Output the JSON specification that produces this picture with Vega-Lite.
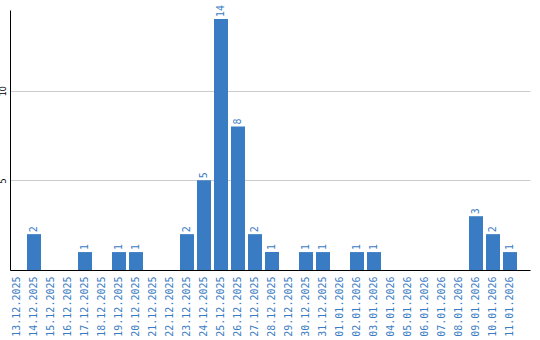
{
  "$schema": "https://vega.github.io/schema/vega-lite/v6.json",
  "width": 520,
  "height": 260,
  "autosize": {"type": "none"},
  "padding": {"left": 10, "top": 10, "right": 10, "bottom": 70},
  "background": "white",
  "config": {"view": {"stroke": null}},
  "data": {"values": [
    {"date": "13.12.2025", "count": 0},
    {"date": "14.12.2025", "count": 2},
    {"date": "15.12.2025", "count": 0},
    {"date": "16.12.2025", "count": 0},
    {"date": "17.12.2025", "count": 1},
    {"date": "18.12.2025", "count": 0},
    {"date": "19.12.2025", "count": 1},
    {"date": "20.12.2025", "count": 1},
    {"date": "21.12.2025", "count": 0},
    {"date": "22.12.2025", "count": 0},
    {"date": "23.12.2025", "count": 2},
    {"date": "24.12.2025", "count": 5},
    {"date": "25.12.2025", "count": 14},
    {"date": "26.12.2025", "count": 8},
    {"date": "27.12.2025", "count": 2},
    {"date": "28.12.2025", "count": 1},
    {"date": "29.12.2025", "count": 0},
    {"date": "30.12.2025", "count": 1},
    {"date": "31.12.2025", "count": 1},
    {"date": "01.01.2026", "count": 0},
    {"date": "02.01.2026", "count": 1},
    {"date": "03.01.2026", "count": 1},
    {"date": "04.01.2026", "count": 0},
    {"date": "05.01.2026", "count": 0},
    {"date": "06.01.2026", "count": 0},
    {"date": "07.01.2026", "count": 0},
    {"date": "08.01.2026", "count": 0},
    {"date": "09.01.2026", "count": 3},
    {"date": "10.01.2026", "count": 2},
    {"date": "11.01.2026", "count": 1}
  ]},
  "encoding": {
    "x": {
      "field": "date", "type": "ordinal", "sort": null,
      "scale": {"paddingInner": 0.1765, "paddingOuter": 0.382, "align": 0},
      "axis": {
        "title": null, "labelAngle": -90, "labelAlign": "right", "labelBaseline": "middle",
        "labelFont": "DejaVu Sans Mono", "labelFontSize": 10, "labelColor": "#3a7cc3",
        "labelPadding": 6, "ticks": false, "domainColor": "#000000", "domainWidth": 1, "grid": false
      }
    },
    "y": {
      "field": "count", "type": "quantitative",
      "scale": {"domain": [0, 14.5], "nice": false},
      "axis": {
        "title": null, "values": [5, 10], "labelAngle": -90, "labelAlign": "center", "labelBaseline": "bottom",
        "labelFont": "DejaVu Sans", "labelFontSize": 8, "labelColor": "#000000", "labelPadding": 3,
        "ticks": false, "domainColor": "#000000", "domainWidth": 1,
        "grid": true, "gridColor": "#cccccc", "gridWidth": 1
      }
    }
  },
  "layer": [
    {"mark": {"type": "bar", "color": "#3a7cc3"}},
    {
      "transform": [{"filter": "datum.count > 0"}],
      "mark": {"type": "text", "angle": -90, "align": "left", "baseline": "middle", "dx": 2,
               "font": "DejaVu Sans Mono", "fontSize": 10, "color": "#3a7cc3"},
      "encoding": {"text": {"field": "count", "type": "quantitative"}}
    }
  ]
}
